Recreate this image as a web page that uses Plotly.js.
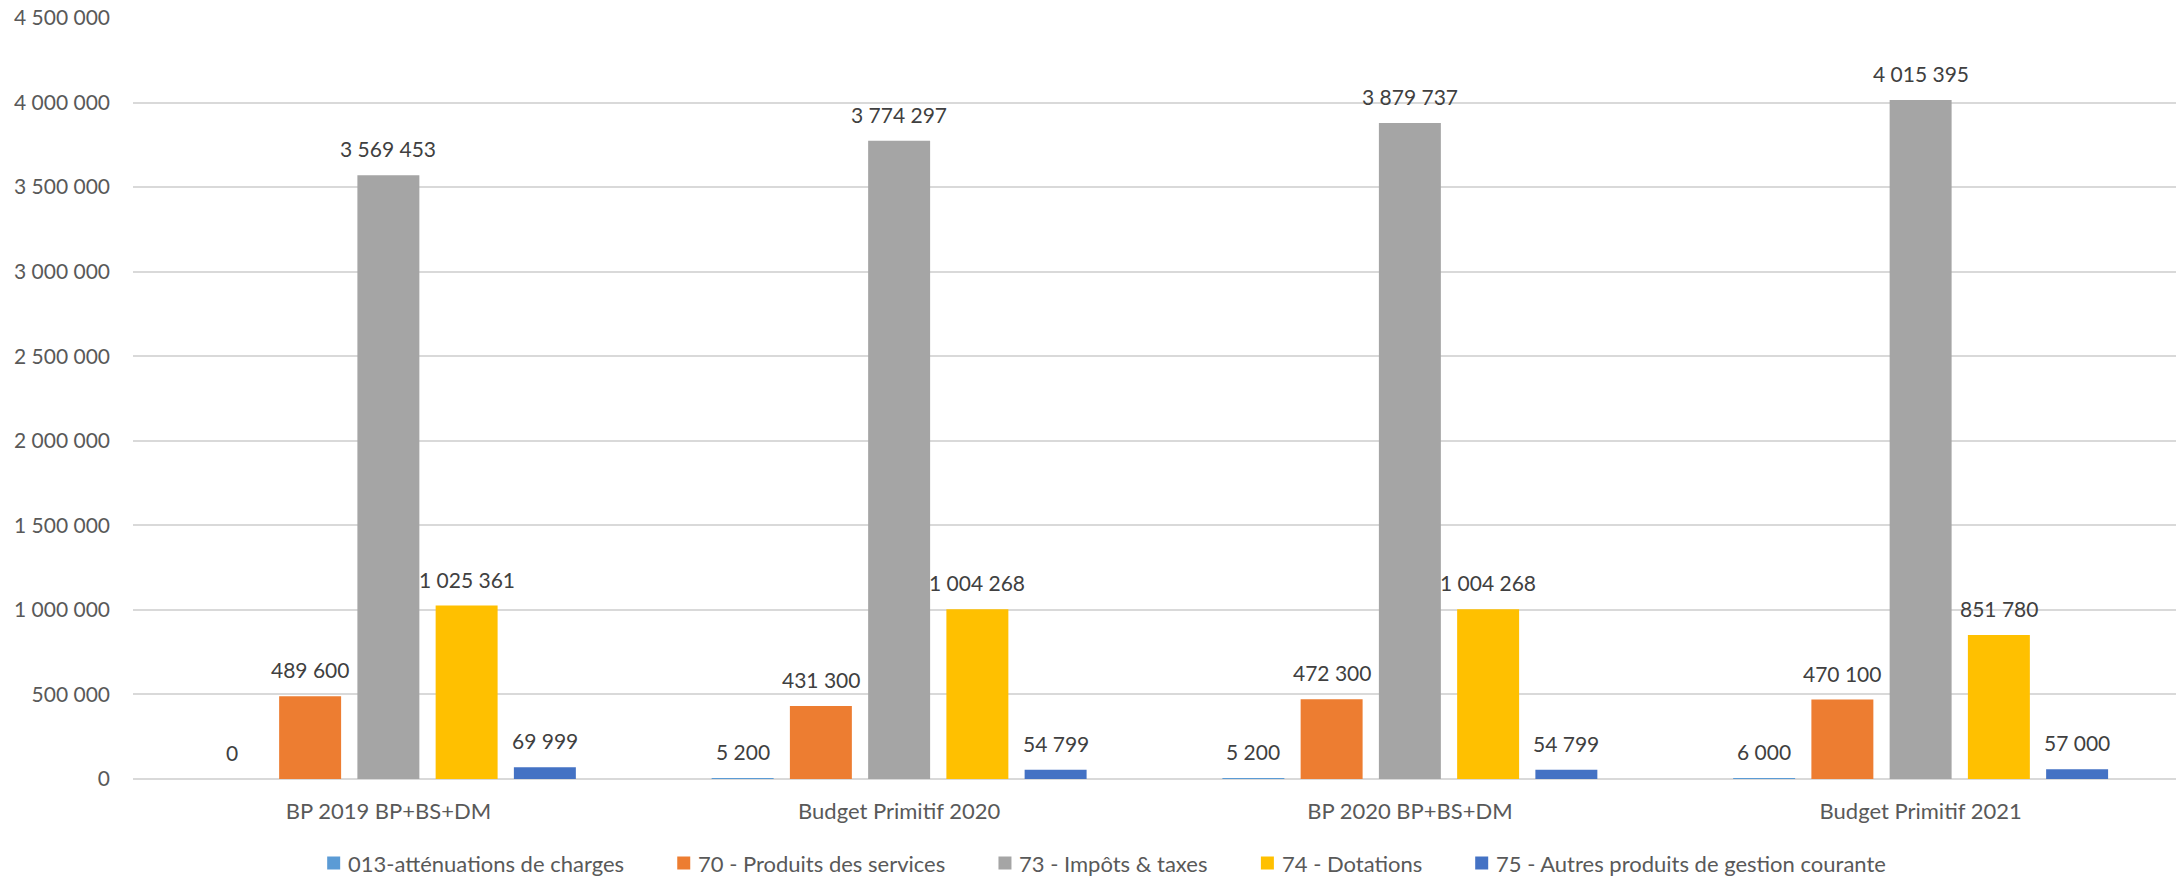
<!DOCTYPE html>
<html>
<head>
<meta charset="utf-8">
<script src="https://cdn.plot.ly/plotly-3.0.1.min.js"></script>
<style>
  html, body { margin: 0; padding: 0; background: #ffffff; }
  #chart { width: 2176px; height: 880px; }
</style>
</head>
<body>
<div id="chart"></div>
<script>
// ---- Data ----
const categories = ["BP 2019 BP+BS+DM", "Budget Primitif 2020", "BP 2020 BP+BS+DM", "Budget Primitif 2021"];
const seriesNames = [
  "013-atténuations de charges",
  "70 - Produits des services",
  "73 - Impôts & taxes",
  "74 - Dotations",
  "75 - Autres produits de gestion courante"
];
const s013 = [0, 5200, 5200, 6000];
const s70 = [489600, 431300, 472300, 470100];
const s73 = [3569453, 3774297, 3879737, 4015395];
const s74 = [1025361, 1004268, 1004268, 851780];
const s75 = [69999, 54799, 54799, 57000];
const yTickValues = [0, 500000, 1000000, 1500000, 2000000, 2500000, 3000000, 3500000, 4000000, 4500000];

// ---- Styles ----
const colors = ["#5B9BD5", "#ED7D31", "#A5A5A5", "#FFC000", "#4472C4"];
const seriesValues = [s013, s70, s73, s74, s75];
const W = 2176, H = 880;
const margin = {l: 133, r: 0, t: 18, b: 101};
const bargap = 0.234, bargroupgap = 0.208;
const fontFamily = "Lato, 'Open Sans', sans-serif";
const numFont = {family: fontFamily, size: 21, color: "#404040"};

function fmt(v) {
  return String(v).replace(/\B(?=(\d{3})+(?!\d))/g, " ");
}

const traces = seriesValues.map((vals, i) => ({
  type: "bar",
  name: seriesNames[i],
  x: categories,
  y: vals,
  marker: {color: colors[i]},
  showlegend: false,
  hoverinfo: "x+y+name"
}));

// data labels as annotations, offset to each bar of the group
const plotW = W - margin.l - margin.r;
const catW = plotW / categories.length;
const slot = catW * (1 - bargap) / seriesValues.length;
const annotations = [];
seriesValues.forEach((vals, i) => {
  vals.forEach((v, j) => {
    annotations.push({
      xref: "x", yref: "y",
      x: categories[j], y: v,
      text: fmt(v),
      showarrow: false,
      xanchor: "center", yanchor: "bottom",
      xshift: (i - (seriesValues.length - 1) / 2) * slot,
      yshift: 12,
      font: numFont
    });
  });
});

// manual legend laid out like the reference
const legendFont = {family: fontFamily, size: 22, color: "#595959"};
const canvas = document.createElement("canvas");
const ctx = canvas.getContext("2d");
ctx.font = legendFont.size + "px Lato";
const markerSize = 13, markerTextGap = 6, itemGap = 55;
const widths = seriesNames.map(n => ctx.measureText(n).width);
let total = 0;
widths.forEach((w, i) => { total += markerSize + markerTextGap + w + (i < widths.length - 1 ? itemGap : 0); });
const legendCenter = 1106, legendY = 863;
let xpos = legendCenter - total / 2;
const shapes = [];
seriesNames.forEach((n, i) => {
  shapes.push({
    type: "rect", xref: "paper", yref: "paper",
    x0: (xpos - margin.l) / plotW, x1: (xpos + markerSize - margin.l) / plotW,
    y0: (H - margin.b - (legendY + markerSize / 2)) / (H - margin.t - margin.b),
    y1: (H - margin.b - (legendY - markerSize / 2)) / (H - margin.t - margin.b),
    fillcolor: colors[i], line: {width: 0}
  });
  annotations.push({
    xref: "paper", yref: "paper",
    x: (xpos + markerSize + markerTextGap - margin.l) / plotW,
    y: (H - margin.b - legendY) / (H - margin.t - margin.b),
    xanchor: "left", yanchor: "middle",
    text: n, showarrow: false,
    font: legendFont
  });
  xpos += markerSize + markerTextGap + widths[i] + itemGap;
});

const layout = {
  width: W, height: H,
  margin: margin,
  paper_bgcolor: "#ffffff",
  plot_bgcolor: "#ffffff",
  barmode: "group",
  bargap: bargap,
  bargroupgap: bargroupgap,
  separators: ", ",
  showlegend: false,
  font: {family: fontFamily, color: "#595959"},
  xaxis: {
    type: "category",
    tickfont: {family: fontFamily, size: 22, color: "#595959"},
    showgrid: false,
    showline: false,
    ticks: "",
    ticklabelstandoff: 17,
    fixedrange: true
  },
  yaxis: {
    range: [0, 4500000],
    tickvals: yTickValues,
    ticktext: yTickValues.map(fmt),
    tickfont: {family: fontFamily, size: 21, color: "#595959"},
    showgrid: true,
    gridcolor: "#d9d9d9",
    gridwidth: 2,
    zeroline: true,
    zerolinecolor: "#d9d9d9",
    zerolinewidth: 2,
    showline: false,
    ticks: "",
    ticklabelstandoff: 22,
    fixedrange: true
  },
  annotations: annotations,
  shapes: shapes
};

Plotly.newPlot("chart", traces, layout, {displayModeBar: false, staticPlot: true});
</script>
</body>
</html>
